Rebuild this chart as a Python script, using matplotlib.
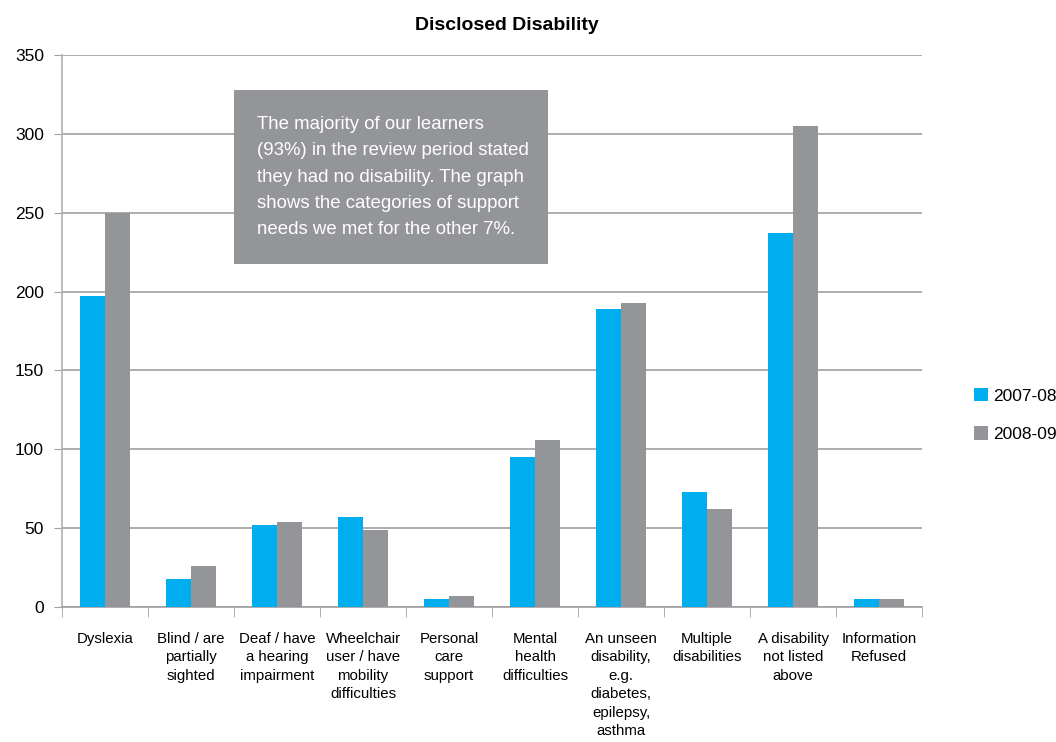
import matplotlib.pyplot as plt
import numpy as np

plt.rcParams['font.family'] = ['Liberation Sans', 'DejaVu Sans']

categories = ["Dyslexia", "Blind / are\npartially\nsighted", "Deaf / have\na hearing\nimpairment",
              "Wheelchair\nuser / have\nmobility\ndifficulties", "Personal\ncare\nsupport",
              "Mental\nhealth\ndifficulties", "An unseen\ndisability,\ne.g.\ndiabetes,\nepilepsy,\nasthma",
              "Multiple\ndisabilities", "A disability\nnot listed\nabove", "Information\nRefused"]
y2007 = [197, 18, 52, 57, 5, 95, 189, 73, 237, 5]
y2008 = [250, 26, 54, 49, 7, 106, 193, 62, 305, 5]
series_names = ["2007-08", "2008-09"]

blue = "#00aeef"
grey = "#939598"

fig = plt.figure(figsize=(10.56, 7.42), dpi=100)
ax = fig.add_axes([62/1056, 1-607/742, 860/1056, 552/742])

x = np.arange(len(categories))
w = 0.29
b1 = ax.bar(x - w/2, y2007, w, color=blue, label=series_names[0], zorder=3)
b2 = ax.bar(x + w/2, y2008, w, color=grey, label=series_names[1], zorder=3)

ax.set_xlim(-0.5, len(categories) - 0.5)
ax.set_ylim(0, 350)
ax.set_yticks(range(0, 351, 50))
ax.yaxis.grid(True, color="#a0a0a0", lw=1.2, zorder=0)
ax.tick_params(axis='y', length=6, color="#a0a0a0", labelsize=12.5, pad=7)

# category labels centred, tick marks between categories
ax.set_xticks(x)
ax.set_xticklabels(categories, fontsize=10.8, linespacing=1.4, va='top')
ax.tick_params(axis='x', length=0, pad=18)
ax.set_xticks(np.arange(-0.5, len(categories) + 0.5, 1), minor=True)
ax.tick_params(axis='x', which='minor', length=7, color="#a0a0a0")

for s in ['top', 'right']:
    ax.spines[s].set_visible(False)
ax.spines['left'].set_color("#b0b0b0")
ax.spines['bottom'].set_color("#a0a0a0")
ax.spines['left'].set_linewidth(1.2)
ax.spines['bottom'].set_linewidth(1.2)

fig.text(507/1056, 1-25/742, "Disclosed Disability", ha='center', va='center',
         fontsize=14, fontweight='bold')

# note box
box = plt.Rectangle((234/1056, 1-264/742), 314/1056, 174/742, transform=fig.transFigure,
                    facecolor=grey, edgecolor='none', zorder=5)
fig.patches.append(box)
fig.text(257/1056, 1-177/742,
         "The majority of our learners\n(93%) in the review period stated\nthey had no disability. The graph\nshows the categories of support\nneeds we met for the other 7%.",
         ha='left', va='center', color='white', fontsize=13.4, linespacing=1.72, zorder=6)

fig.legend(handles=[b1, b2], loc='center left', bbox_to_anchor=(974/1056, 1-415/742),
           frameon=False, fontsize=12.5, handlelength=0.8, handleheight=0.8,
           labelspacing=1.3, handletextpad=0.3, borderpad=0, borderaxespad=0)

fig.savefig("out.png", dpi=100)
